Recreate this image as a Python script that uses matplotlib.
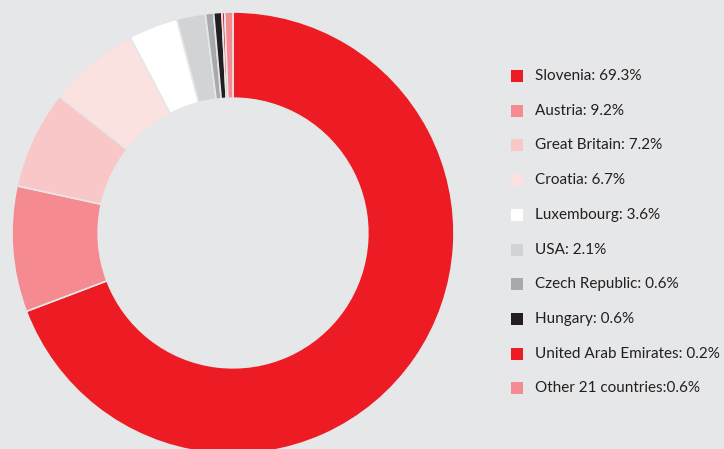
import matplotlib
matplotlib.use("Agg")
import matplotlib.pyplot as plt
from matplotlib.patches import Rectangle

countries = ["Slovenia", "Austria", "Great Britain", "Croatia", "Luxembourg", "USA",
             "Czech Republic", "Hungary", "United Arab Emirates", "Other 21 countries"]
shares = [69.3, 9.2, 7.2, 6.7, 3.6, 2.1, 0.6, 0.6, 0.2, 0.6]
labels = ["Slovenia: 69.3%", "Austria: 9.2%", "Great Britain: 7.2%", "Croatia: 6.7%",
          "Luxembourg: 3.6%", "USA: 2.1%", "Czech Republic: 0.6%", "Hungary: 0.6%",
          "United Arab Emirates: 0.2%", "Other 21 countries:0.6%"]
colors = ["#ed1c24", "#f58b90", "#f9c7c7", "#fce1e1", "#ffffff", "#d1d3d4",
          "#a7a9ac", "#231f20", "#ed1c24", "#f58b90"]

bg = "#e6e7e8"
W, H = 724, 449
fig = plt.figure(figsize=(W / 100, H / 100), dpi=100, facecolor=bg)
ax = fig.add_axes([0, 0, 1, 1])
ax.set_facecolor(bg)
R = 221.0
cx, cy = 233.0, 233.0

ax.pie(shares, colors=colors, startangle=90, counterclock=False, radius=1.0,
       wedgeprops=dict(width=0.39, edgecolor=bg, linewidth=1.2))
ax.set_aspect("auto")
ax.set_xlim(-cx / R, (W - cx) / R)
ax.set_ylim(-(H - cy) / R, cy / R)
ax.axis("off")

# legend
y0 = 76
dy = 34.7
for i, (lab, col) in enumerate(zip(labels, colors)):
    yc = y0 + i * dy
    fig.patches.append(Rectangle((511 / W, 1 - (yc + 6) / H), 12 / W, 12 / H,
                                 transform=fig.transFigure, facecolor=col,
                                 edgecolor="none"))
    fig.text(535 / W, 1 - yc / H, lab, ha="left", va="center", fontsize=11,
             family="Lato", color="#231f20")

fig.savefig("out.png", dpi=100, facecolor=bg)
